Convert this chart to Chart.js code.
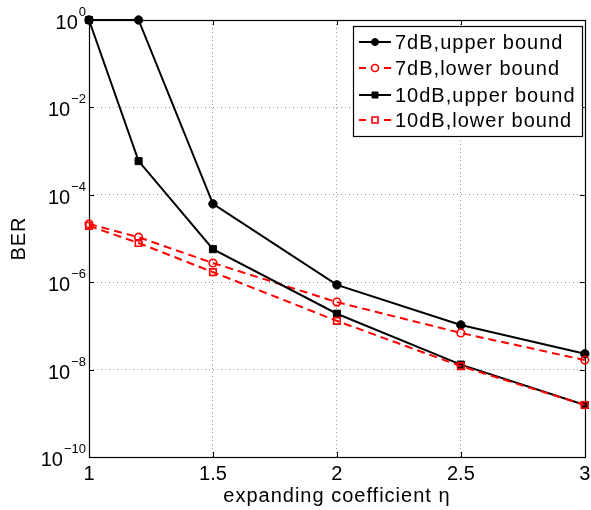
<!DOCTYPE html>
<html>
<head>
<meta charset="utf-8">
<script src="https://cdn.jsdelivr.net/npm/chart.js@4.4.1/dist/chart.umd.min.js"></script>
<style>
html,body{margin:0;padding:0;background:#fff;}
#wrap{width:591px;height:510px;position:relative;}
</style>
</head>
<body>
<div id="wrap"><canvas id="c" width="591" height="510"></canvas></div>
<script>
// ---- data ----
const xValues = [1, 1.2, 1.5, 2, 2.5, 3];
const upper7dB = [1, 1, 6.2e-5, 8.7e-7, 1.05e-7, 2.3e-8];
const lower7dB = [2.15e-5, 1.07e-5, 2.75e-6, 3.5e-7, 6.9e-8, 1.65e-8];
const upper10dB = [1, 5.9e-4, 5.7e-6, 1.9e-7, 1.3e-8, 1.55e-9];
const lower10dB = [1.95e-5, 7.9e-6, 1.7e-6, 1.3e-7, 1.2e-8, 1.55e-9];
const seriesLabels = ['7dB,upper bound', '7dB,lower bound', '10dB,upper bound', '10dB,lower bound'];
const xTicks = [1, 1.5, 2, 2.5, 3];
const xTickLabels = ['1', '1.5', '2', '2.5', '3'];
const yTicks = [1, 1e-2, 1e-4, 1e-6, 1e-8, 1e-10];
const yTickExponents = ['0', '\u22122', '\u22124', '\u22126', '\u22128', '\u221210'];
const xTitle = 'expanding coefficient \u03b7';
const yTitle = 'BER';

const FONT = '"Liberation Sans", Arial, Helvetica, sans-serif';
const pts = arr => xValues.map((x, i) => ({x: x, y: arr[i]}));

const datasets = [
  {label: seriesLabels[0], data: pts(upper7dB), borderColor: '#000', backgroundColor: '#000',
   borderWidth: 2, pointStyle: 'circle', pointRadius: 4.2, pointBorderWidth: 1, order: 4},
  {label: seriesLabels[1], data: pts(lower7dB), borderColor: '#ff0000', backgroundColor: 'rgba(0,0,0,0)',
   borderWidth: 2, borderDash: [8, 5], pointStyle: 'circle', pointRadius: 3.8, pointBorderWidth: 1.6, order: 3},
  {label: seriesLabels[2], data: pts(upper10dB), borderColor: '#000', backgroundColor: '#000',
   borderWidth: 2, pointStyle: 'rect', pointRadius: 5, pointBorderWidth: 1, order: 2},
  {label: seriesLabels[3], data: pts(lower10dB), borderColor: '#ff0000', backgroundColor: 'rgba(0,0,0,0)',
   borderWidth: 2, borderDash: [8, 5], pointStyle: 'rect', pointRadius: 4.6, pointBorderWidth: 1.6, order: 1}
];
datasets.forEach(d => { d.clip = false; d.tension = 0; d.fill = false; d.pointBorderColor = d.borderColor; d.pointBackgroundColor = d.backgroundColor; });

const framePlugin = {
  id: 'frame',
  beforeDatasetsDraw(chart) {
    const {ctx, chartArea: a} = chart;
    const xs = chart.scales.x, ys = chart.scales.y;
    ctx.save();
    ctx.strokeStyle = '#000';
    ctx.lineWidth = 1;
    ctx.setLineDash([]);
    ctx.beginPath();
    // inner tick marks
    xTicks.forEach(v => {
      const px = Math.round(xs.getPixelForValue(v)) + 0.5;
      ctx.moveTo(px, a.bottom); ctx.lineTo(px, a.bottom - 5);
      ctx.moveTo(px, a.top); ctx.lineTo(px, a.top + 5);
    });
    yTicks.forEach(v => {
      const py = Math.round(ys.getPixelForValue(v)) + 0.5;
      ctx.moveTo(a.left, py); ctx.lineTo(a.left + 5, py);
      ctx.moveTo(a.right, py); ctx.lineTo(a.right - 5, py);
    });
    ctx.stroke();
    ctx.lineWidth = 1.2;
    ctx.strokeRect(Math.round(a.left) + 0.5, Math.round(a.top) + 0.5, Math.round(a.right - a.left), Math.round(a.bottom - a.top));
    ctx.restore();
  },
  afterDraw(chart) {
    const {ctx, chartArea: a} = chart;
    const xs = chart.scales.x, ys = chart.scales.y;
    ctx.save();
    ctx.fillStyle = '#000';
    try { ctx.letterSpacing = '0px'; } catch (e) {}
    // x tick labels
    ctx.font = '20px ' + FONT;
    ctx.textAlign = 'center';
    ctx.textBaseline = 'alphabetic';
    xTicks.forEach((v, i) => {
      ctx.fillText(xTickLabels[i], xs.getPixelForValue(v), a.bottom + 23);
    });
    // y tick labels: 10 with superscript exponent
    yTicks.forEach((v, i) => {
      const py = ys.getPixelForValue(v);
      ctx.textAlign = 'right';
      ctx.font = '13px ' + FONT;
      const ew = ctx.measureText(yTickExponents[i]).width;
      ctx.fillText(yTickExponents[i], 86, py - 4);
      ctx.font = '20px ' + FONT;
      ctx.fillText('10', 86 - ew - 1, py + 9);
    });
    // axis titles
    try { ctx.letterSpacing = '1px'; } catch (e) {}
    ctx.font = '20px ' + FONT;
    ctx.textAlign = 'center';
    ctx.fillText(xTitle, (a.left + a.right) / 2, 502);
    ctx.save();
    ctx.translate(25, (a.top + a.bottom) / 2);
    ctx.rotate(-Math.PI / 2);
    ctx.fillText(yTitle, 0, 0);
    ctx.restore();
    // legend
    const bx = 353.5, by = 26.5, bw = 229, bh = 110;
    ctx.fillStyle = '#fff';
    ctx.fillRect(bx, by, bw, bh);
    ctx.strokeStyle = '#000';
    ctx.lineWidth = 1.2;
    ctx.setLineDash([]);
    ctx.strokeRect(bx, by, bw, bh);
    const rows = [42, 68, 95, 120];
    chart.data.datasets.forEach((d, i) => {
      const y = rows[i];
      ctx.save();
      ctx.strokeStyle = d.borderColor;
      ctx.lineWidth = 2;
      ctx.beginPath();
      if (d.borderDash) {
        ctx.moveTo(359, y); ctx.lineTo(366, y);
        ctx.moveTo(384, y); ctx.lineTo(391, y);
      } else {
        ctx.moveTo(359, y); ctx.lineTo(391, y);
      }
      ctx.stroke();
      ctx.fillStyle = d.backgroundColor;
      ctx.strokeStyle = d.borderColor;
      ctx.lineWidth = d.pointBorderWidth;
      ctx.beginPath();
      if (d.pointStyle === 'rect') { ctx.rect(372, y - 3, 6, 6); } else { ctx.arc(375, y, 3.5, 0, Math.PI * 2); }
      ctx.fill(); ctx.stroke();
      ctx.restore();
      ctx.fillStyle = '#000';
      ctx.textAlign = 'left';
      ctx.font = '20px ' + FONT;
      try { ctx.letterSpacing = '1px'; } catch (e) {}
      ctx.fillText(d.label, 395, y + 7);
    });
    ctx.restore();
  }
};

new Chart(document.getElementById('c'), {
  type: 'line',
  data: {datasets: datasets},
  options: {
    responsive: false,
    animation: false,
    devicePixelRatio: 1,
    layout: {padding: {left: 0, top: 20, right: 3, bottom: 0}},
    plugins: {legend: {display: false}, tooltip: {enabled: false}},
    scales: {
      x: {
        type: 'linear', min: 1, max: 3,
        afterBuildTicks: s => { s.ticks = xTicks.map(v => ({value: v})); },
        afterFit: s => { s.height = 53; },
        ticks: {display: false},
        border: {display: false, dash: [1, 3]},
        grid: {drawTicks: false, color: ctx => (ctx.tick && (ctx.tick.value === 1 || ctx.tick.value === 3)) ? 'rgba(0,0,0,0)' : '#999', lineWidth: 1}
      },
      y: {
        type: 'logarithmic', min: 1e-10, max: 1,
        afterBuildTicks: s => { s.ticks = yTicks.map(v => ({value: v})); },
        afterFit: s => { s.width = 89; },
        ticks: {display: false},
        border: {display: false, dash: [1, 3]},
        grid: {drawTicks: false, color: ctx => (ctx.tick && (ctx.tick.value === 1 || ctx.tick.value === 1e-10)) ? 'rgba(0,0,0,0)' : '#999', lineWidth: 1}
      }
    }
  },
  plugins: [framePlugin]
});
</script>
</body>
</html>
